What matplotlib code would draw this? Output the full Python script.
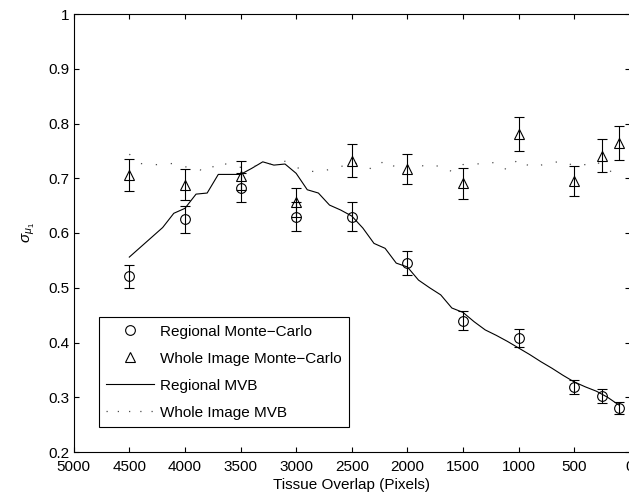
import numpy as np
import matplotlib
matplotlib.use("Agg")
import matplotlib.pyplot as plt
from matplotlib.lines import Line2D

plt.rcParams['font.family'] = ['Liberation Sans', 'DejaVu Sans']
plt.rcParams['mathtext.fontset'] = 'custom'
plt.rcParams['mathtext.rm'] = 'Liberation Sans'
plt.rcParams['mathtext.it'] = 'Liberation Sans:italic'

# Monte-Carlo estimates (tissue overlap in pixels)
mc_overlap = [4500, 4000, 3500, 3000, 2500, 2000, 1500, 1000, 500, 250, 100]
regional_mc = [0.521, 0.625, 0.683, 0.630, 0.630, 0.545, 0.440, 0.408, 0.319, 0.302, 0.280]
regional_err = [0.021, 0.025, 0.027, 0.026, 0.026, 0.022, 0.018, 0.016, 0.013, 0.013, 0.011]
whole_mc = [0.706, 0.688, 0.705, 0.656, 0.732, 0.717, 0.691, 0.781, 0.695, 0.741, 0.764]
whole_err = [0.029, 0.028, 0.026, 0.027, 0.030, 0.028, 0.028, 0.031, 0.028, 0.030, 0.031]

# MVB curves sampled every 100 pixels from 4500 down to 100
mvb_overlap = list(range(4500, 0, -100))
regional_mvb = [0.556, 0.574, 0.592, 0.610, 0.636, 0.645, 0.671, 0.673, 0.707, 0.707,
                0.707, 0.718, 0.730, 0.724, 0.726, 0.709, 0.679, 0.673, 0.651, 0.642,
                0.631, 0.609, 0.581, 0.572, 0.545, 0.538, 0.514, 0.500, 0.487, 0.463,
                0.455, 0.438, 0.423, 0.413, 0.402, 0.390, 0.378, 0.365, 0.353, 0.340,
                0.328, 0.319, 0.311, 0.300, 0.286]
whole_mvb = [0.744, 0.727, 0.724, 0.726, 0.727, 0.721, 0.718, 0.711, 0.730, 0.724,
             0.720, 0.721, 0.725, 0.727, 0.731, 0.720, 0.713, 0.712, 0.716, 0.721,
             0.729, 0.724, 0.715, 0.734, 0.719, 0.722, 0.725, 0.719, 0.724, 0.712,
             0.725, 0.727, 0.725, 0.730, 0.714, 0.736, 0.721, 0.724, 0.728, 0.732,
             0.722, 0.725, 0.731, 0.713, 0.712]

x_ticks = list(range(5000, -1, -500))
y_ticks = [0.2, 0.3, 0.4, 0.5, 0.6, 0.7, 0.8, 0.9, 1.0]
y_labels = ['0.2', '0.3', '0.4', '0.5', '0.6', '0.7', '0.8', '0.9', '1']

fig = plt.figure(figsize=(6.29, 4.95), dpi=100)
ax = fig.add_axes([73.7 / 629, 1 - 452 / 495, (629.8 - 73.7) / 629, (452 - 14) / 495])

ax.plot(mvb_overlap, regional_mvb, color='black', lw=0.8)
ax.plot(mvb_overlap, whole_mvb, color='0.3', lw=0.9, ls=(0, (1, 11)))

ax.errorbar(mc_overlap, regional_mc, yerr=regional_err, fmt='o', ms=7,
            mfc='none', mec='black', mew=0.8, ecolor='black', elinewidth=0.8,
            capsize=3.6, capthick=0.8)
ax.errorbar(mc_overlap, whole_mc, yerr=whole_err, fmt='^', ms=7.5,
            mfc='none', mec='black', mew=0.8, ecolor='black', elinewidth=0.8,
            capsize=3.6, capthick=0.8)

ax.set_xlim(5000, 0)
ax.set_ylim(0.2, 1.0)
ax.set_xticks(x_ticks)
ax.set_yticks(y_ticks)
ax.set_yticklabels(y_labels)
ax.tick_params(direction='in', top=True, right=True, length=3.6, width=0.8,
               labelsize=11)
ax.tick_params(axis='x', pad=6)
ax.tick_params(axis='y', pad=3)
for s in ax.spines.values():
    s.set_linewidth(0.8)

ax.set_xlabel('Tissue Overlap (Pixels)', fontsize=11, labelpad=2.5)
ax.set_ylabel(r'$\sigma_{\mu_1}$', fontsize=11, labelpad=8)

handles = [
    Line2D([], [], ls='none', marker='o', ms=7, mfc='none', mec='black', mew=0.8),
    Line2D([], [], ls='none', marker='^', ms=7.5, mfc='none', mec='black', mew=0.8),
    Line2D([], [], color='black', lw=0.8),
    Line2D([], [], color='0.3', lw=0.9, ls=(0, (1, 8))),
]
labels = ['Regional Monte\u2212Carlo', 'Whole Image Monte\u2212Carlo',
          'Regional MVB', 'Whole Image MVB']
leg = ax.legend(handles, labels, loc='lower left', bbox_to_anchor=(0.0447, 0.0564),
                borderaxespad=0, fontsize=11, frameon=True, fancybox=False,
                edgecolor='black', framealpha=1, handlelength=3.16,
                handletextpad=0.37, labelspacing=0.85, borderpad=0.5)
leg.get_frame().set_linewidth(0.8)

fig.savefig('out.png', dpi=100)
